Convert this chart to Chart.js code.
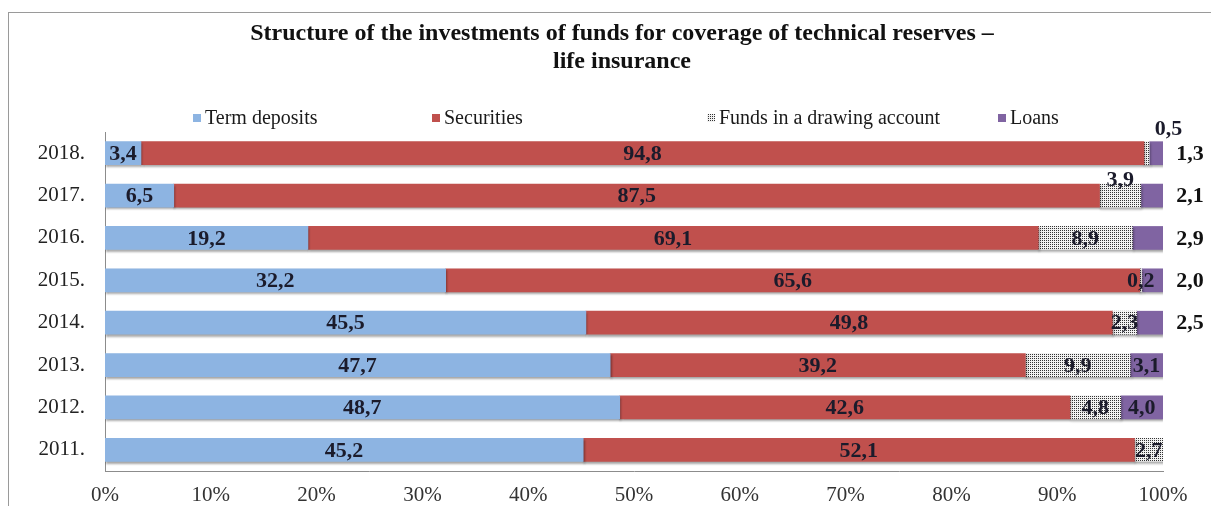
<!DOCTYPE html>
<html>
<head>
<meta charset="utf-8">
<script src="https://cdn.jsdelivr.net/npm/chart.js@4.4.1/dist/chart.umd.min.js"></script>
<style>
  html, body { margin: 0; padding: 0; background: #fff; overflow: hidden; }
  #wrap { position: relative; width: 1211px; height: 506px; }
  #frame { position: absolute; left: 8px; top: 12px; width: 1300px; height: 600px;
           border-left: 1px solid #9a9a9a; border-top: 1px solid #9a9a9a; }
  canvas { position: absolute; left: 0; top: 0; }
</style>
</head>
<body>
<div id="wrap">
  <div id="frame"></div>
  <canvas id="structChart" width="1211" height="506"></canvas>
</div>
<script>
var years = ['2018.', '2017.', '2016.', '2015.', '2014.', '2013.', '2012.', '2011.'];
var termDeposits = [3.4, 6.5, 19.2, 32.2, 45.5, 47.7, 48.7, 45.2];
var securities = [94.8, 87.5, 69.1, 65.6, 49.8, 39.2, 42.6, 52.1];
var drawingAccount = [0.5, 3.9, 8.9, 0.2, 2.3, 9.9, 4.8, 2.7];
var loans = [1.3, 2.1, 2.9, 2.0, 2.5, 3.1, 4.0, 0];
var xTicks = [0, 10, 20, 30, 40, 50, 60, 70, 80, 90, 100];
var titleLines = ['Structure of the investments of funds for coverage of technical reserves \u2013', 'life insurance'];

var serif = "'Liberation Serif', 'Times New Roman', serif";

// 100% stacked: each year scaled to its own total
var totals = years.map(function (y, i) {
  return termDeposits[i] + securities[i] + drawingAccount[i] + loans[i];
});
function share(arr) {
  return arr.map(function (v, i) { return v / totals[i] * 100; });
}

// dotted fill for the drawing account series
function dotPattern() {
  var c = document.createElement('canvas');
  c.width = 4; c.height = 4;
  var g = c.getContext('2d');
  g.fillStyle = '#f2f2f2';
  g.fillRect(0, 0, 4, 4);
  g.fillStyle = '#333';
  g.fillRect(0, 0, 1, 1);
  g.fillRect(2, 0, 1, 1);
  g.fillRect(0, 2, 1, 1);
  g.fillRect(2, 2, 1, 1);
  return g.createPattern(c, 'repeat');
}
var dots = dotPattern();

var raw = [termDeposits, securities, drawingAccount, loans];

var data = {
  labels: years,
  datasets: [
    { label: 'Term deposits', data: share(termDeposits), backgroundColor: '#8db4e2' },
    { label: 'Securities', data: share(securities), backgroundColor: '#c0504d' },
    { label: 'Funds in a drawing account', data: share(drawingAccount), backgroundColor: dots },
    { label: 'Loans', data: share(loans), backgroundColor: '#8064a2' }
  ]
};

function fmt(v) {
  return v.toFixed(1).replace('.', ',');
}

// soft shadow under the bars
var barShadow = {
  id: 'barShadow',
  beforeDatasetsDraw: function (chart) {
    var ctx = chart.ctx;
    ctx.save();
    ctx.shadowColor = 'rgba(0,0,0,0.35)';
    ctx.shadowOffsetX = 1;
    ctx.shadowOffsetY = 2;
    ctx.shadowBlur = 2;
  },
  afterDatasetsDraw: function (chart) {
    chart.ctx.restore();
  }
};

// value labels on the segments
var valueLabels = {
  id: 'valueLabels',
  afterDraw: function (chart) {
    var ctx = chart.ctx;
    ctx.save();
    ctx.font = 'bold 22px ' + serif;
    ctx.textAlign = 'center';
    ctx.textBaseline = 'middle';
    chart.data.datasets.forEach(function (ds, di) {
      var meta = chart.getDatasetMeta(di);
      meta.data.forEach(function (bar, i) {
        var v = raw[di][i];
        if (!v) return;
        var x = (bar.base + bar.x) / 2;
        var y = bar.y;
        ctx.fillStyle = '#1b1b2b';
        if (di === 2 && i === 0) { x += 22; y -= 25; }
        if (di === 2 && i === 1) { y -= 16; }
        if (di === 3 && v < 3) { x = bar.x + 27; ctx.fillStyle = '#111'; }
        ctx.fillText(fmt(v), x, y + 1);
      });
    });
    ctx.restore();
  }
};

// two-line title and a one-row legend with small square markers
var legendX = [193, 432, 707, 998];
var header = {
  id: 'header',
  afterDraw: function (chart) {
    var ctx = chart.ctx;
    ctx.save();
    ctx.font = 'bold 24px ' + serif;
    ctx.fillStyle = '#111';
    ctx.textAlign = 'center';
    ctx.textBaseline = 'middle';
    titleLines.forEach(function (line, i) {
      ctx.fillText(line, 622, 34 + i * 28);
    });

    var box = 8, textGap = 4, y = 118;
    ctx.font = '20px ' + serif;
    ctx.textAlign = 'left';
    chart.data.datasets.forEach(function (ds, i) {
      var x = legendX[i];
      ctx.fillStyle = ds.backgroundColor;
      ctx.fillRect(x, y - box / 2, box, box);
      ctx.fillStyle = '#1a1a1a';
      ctx.fillText(ds.label, x + box + textGap, y + 1);
    });
    ctx.restore();
  }
};

var ctx = document.getElementById('structChart').getContext('2d');
var structChart = new Chart(ctx, {
  type: 'bar',
  data: data,
  plugins: [barShadow, valueLabels, header],
  options: {
    indexAxis: 'y',
    responsive: false,
    animation: false,
    layout: { padding: { left: 0, right: 48, top: 132, bottom: 0 } },
    datasets: { bar: { barThickness: 23, borderWidth: 0 } },
    plugins: {
      legend: { display: false },
      tooltip: { enabled: false },
      title: { display: false }
    },
    scales: {
      x: {
        stacked: true,
        min: 0,
        max: 100,
        afterBuildTicks: function (s) {
          s.ticks = xTicks.map(function (v) { return { value: v }; });
        },
        afterFit: function (s) { s.height = 35; },
        grid: { display: false, drawTicks: false },
        border: { display: true, color: '#8c8c8c', width: 1 },
        ticks: {
          padding: 12,
          color: '#333',
          font: { family: serif, size: 21 },
          callback: function (v) { return v + '%'; }
        }
      },
      y: {
        stacked: true,
        afterFit: function (s) { s.width = 105; },
        grid: { display: false, drawTicks: false },
        border: { display: true, color: '#8c8c8c', width: 1 },
        ticks: {
          padding: 20,
          color: '#222',
          font: { family: serif, size: 21 }
        }
      }
    }
  }
});
</script>
</body>
</html>
